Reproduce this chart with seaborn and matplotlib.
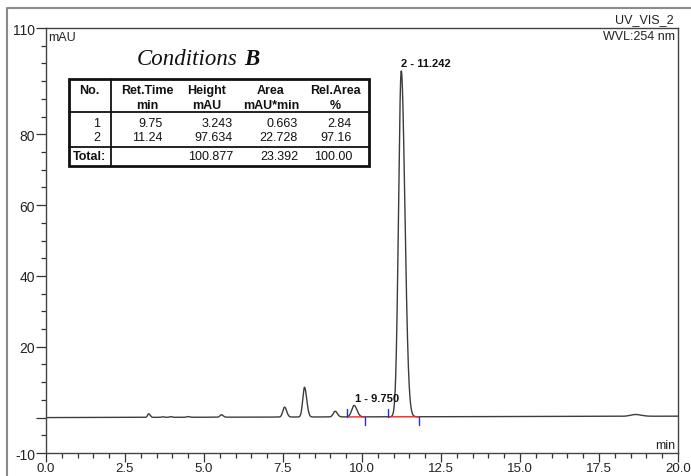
import numpy as np
import pandas as pd
import matplotlib
matplotlib.use("Agg")
import matplotlib.pyplot as plt
from matplotlib.lines import Line2D
import seaborn as sns

# ---------------- data ----------------
peak_times = [3.25, 3.70, 3.95, 4.50, 5.55, 7.55, 8.18, 9.15, 9.75, 11.242, 18.65]
peak_heights = [1.0, 0.15, 0.2, 0.2, 0.7, 2.8, 8.4, 1.6, 3.243, 97.634, 0.5]
peak_sigma_left = [0.035, 0.04, 0.04, 0.05, 0.045, 0.055, 0.055, 0.06, 0.075, 0.085, 0.15]
peak_sigma_right = [0.045, 0.04, 0.04, 0.05, 0.055, 0.065, 0.07, 0.07, 0.09, 0.115, 0.18]
baseline_start = 0.0
baseline_end = 0.4

# integration baselines (start, end) and peak labels
integ_start = [9.53, 10.82]
integ_end = [10.09, 11.80]
label_texts = ["1 - 9.750", "2 - 11.242"]

# table
tbl_no = ["1", "2"]
tbl_ret = ["9.75", "11.24"]
tbl_height = ["3.243", "97.634"]
tbl_area = ["0.663", "22.728"]
tbl_rel = ["2.84", "97.16"]
tbl_total = ["100.877", "23.392", "100.00"]

x_ticks = [0.0, 2.5, 5.0, 7.5, 10.0, 12.5, 15.0, 17.5, 20.0]
y_ticks = [-10, 0, 20, 40, 60, 80, 110]
y_ticklabels = ["-10", "", "20", "40", "60", "80", "110"]

# ---------------- build trace ----------------
t = np.linspace(0, 20, 8001)
sig = baseline_start + (baseline_end - baseline_start) * t / 20.0
for c, h, sl, sr in zip(peak_times, peak_heights, peak_sigma_left, peak_sigma_right):
    s = np.where(t < c, sl, sr)
    sig = sig + h * np.exp(-0.5 * ((t - c) / s) ** 2)
df = pd.DataFrame({"time": t, "signal": sig})

def base_at(x):
    return baseline_start + (baseline_end - baseline_start) * x / 20.0

# ---------------- figure ----------------
sns.set_style("white")
plt.rcParams["font.family"] = ["Liberation Sans", "DejaVu Sans"]

W, H = 691, 477
fig = plt.figure(figsize=(W / 100, H / 100), dpi=100)

def fx(px):
    return px / W

def fy(py):
    return 1 - py / H

L, R, T, B = 46, 678, 29, 454
ax = fig.add_axes([fx(L), fy(B), fx(R) - fx(L), fy(T) - fy(B)])

sns.lineplot(data=df, x="time", y="signal", ax=ax, color="#3c3c3c", lw=1.0,
             estimator=None, sort=False)

ax.set_xlim(0, 20)
ax.set_ylim(-10, 110)
ax.set_xlabel("")
ax.set_ylabel("")

# integration markers
for s0, s1 in zip(integ_start, integ_end):
    ax.plot([s0, s1], [base_at(s0), base_at(s1)], color="#ff2020", lw=1.0)
    ax.plot([s0, s0], [base_at(s0), base_at(s0) + 2.2], color="#2030e0", lw=1.0)
    ax.plot([s1, s1], [base_at(s1), base_at(s1) - 2.2], color="#2030e0", lw=1.0)

# peak labels
ax.text(9.78, 4.2, label_texts[0], fontsize=8, fontweight="bold", ha="left", va="bottom", color="#111")
ax.text(11.242, 98.6, label_texts[1], fontsize=8, fontweight="bold", ha="left", va="bottom", color="#111")

# ticks
ax.set_xticks(x_ticks)
ax.set_xticklabels([f"{v:.1f}" for v in x_ticks])
ax.set_xticks(np.arange(0, 20.01, 0.5), minor=True)
ax.set_yticks(y_ticks)
ax.set_yticklabels(y_ticklabels)
ax.set_yticks(np.arange(-10, 110.01, 5), minor=True)
ax.tick_params(axis="y", which="major", direction="out", length=7, width=0.9,
               color="#333", labelsize=10, labelcolor="#222", pad=1.0)
ax.tick_params(axis="x", which="major", direction="out", length=6.5, width=0.9,
               color="#333", labelsize=9.5, labelcolor="#222", pad=0.3)
ax.tick_params(axis="both", which="minor", direction="out", length=3.5, width=0.9, color="#333")
ax.tick_params(axis="x", which="both", bottom=True, top=False)
ax.tick_params(axis="y", which="both", left=True, right=False)
for sp in ax.spines.values():
    sp.set_color("#444")
    sp.set_linewidth(1.0)

# axis annotations
fig.text(fx(48), fy(38), "mAU", fontsize=9, ha="left", va="center", color="#222")
fig.text(fx(675), fy(446), "min", fontsize=9, ha="right", va="center", color="#222")
fig.text(fx(674), fy(20), "UV_VIS_2", fontsize=9, ha="right", va="center", color="#222")
fig.text(fx(675), fy(37), "WVL:254 nm", fontsize=9, ha="right", va="center", color="#222")

# outer frame
fig.add_artist(Line2D([fx(7), fx(7), 1.0], [0.0, fy(9), fy(9)], transform=fig.transFigure,
                      color="#8a8a8a", lw=1.5))

# title
t1 = fig.text(fx(137), fy(65), "Conditions", fontsize=16.5, style="italic",
              family="Liberation Serif", ha="left", va="baseline", color="#111")
fig.canvas.draw()
bb = t1.get_window_extent()
fig.text(fx(bb.x1 + 6), fy(65), "B", fontsize=16.5, style="italic", fontweight="bold",
         family="Liberation Serif", ha="left", va="baseline", color="#111")

# table
tx0, tx1, ty0, ty1 = 69, 369, 80, 167
fig.add_artist(plt.Rectangle((fx(tx0), fy(ty1)), fx(tx1) - fx(tx0), fy(ty0) - fy(ty1),
                             transform=fig.transFigure, fill=False, lw=2.0, ec="#111"))
fig.add_artist(Line2D([fx(111), fx(111)], [fy(ty0), fy(ty1)], transform=fig.transFigure, color="#111", lw=1.3))
fig.add_artist(Line2D([fx(tx0), fx(tx1)], [fy(113), fy(113)], transform=fig.transFigure, color="#111", lw=1.3))
fig.add_artist(Line2D([fx(tx0), fx(tx1)], [fy(148), fy(148)], transform=fig.transFigure, color="#111", lw=1.3))

hdr1 = ["No.", "Ret.Time", "Height", "Area", "Rel.Area"]
hdr2 = ["", "min", "mAU", "mAU*min", "%"]
hcx = [89, 147, 207, 271, 335]
for s, cx in zip(hdr1, hcx):
    fig.text(fx(cx), fy(91), s, fontsize=9, fontweight="bold", ha="center", va="center", color="#111")
for s, cx in zip(hdr2, hcx):
    fig.text(fx(cx), fy(106), s, fontsize=9, fontweight="bold", ha="center", va="center", color="#111")

col_right = [100, 163, 233, 298, 352]
rows_y = [124, 138]
for i, y in enumerate(rows_y):
    vals = [tbl_no[i], tbl_ret[i], tbl_height[i], tbl_area[i], tbl_rel[i]]
    for v, xr in zip(vals, col_right):
        fig.text(fx(xr), fy(y), v, fontsize=9, ha="right", va="center", color="#111")
fig.text(fx(73), fy(157), "Total:", fontsize=9, fontweight="bold", ha="left", va="center", color="#111")
for v, xr in zip(tbl_total, col_right[2:]):
    fig.text(fx(xr), fy(157), v, fontsize=9, ha="right", va="center", color="#111")

fig.savefig("out.png", dpi=100)
